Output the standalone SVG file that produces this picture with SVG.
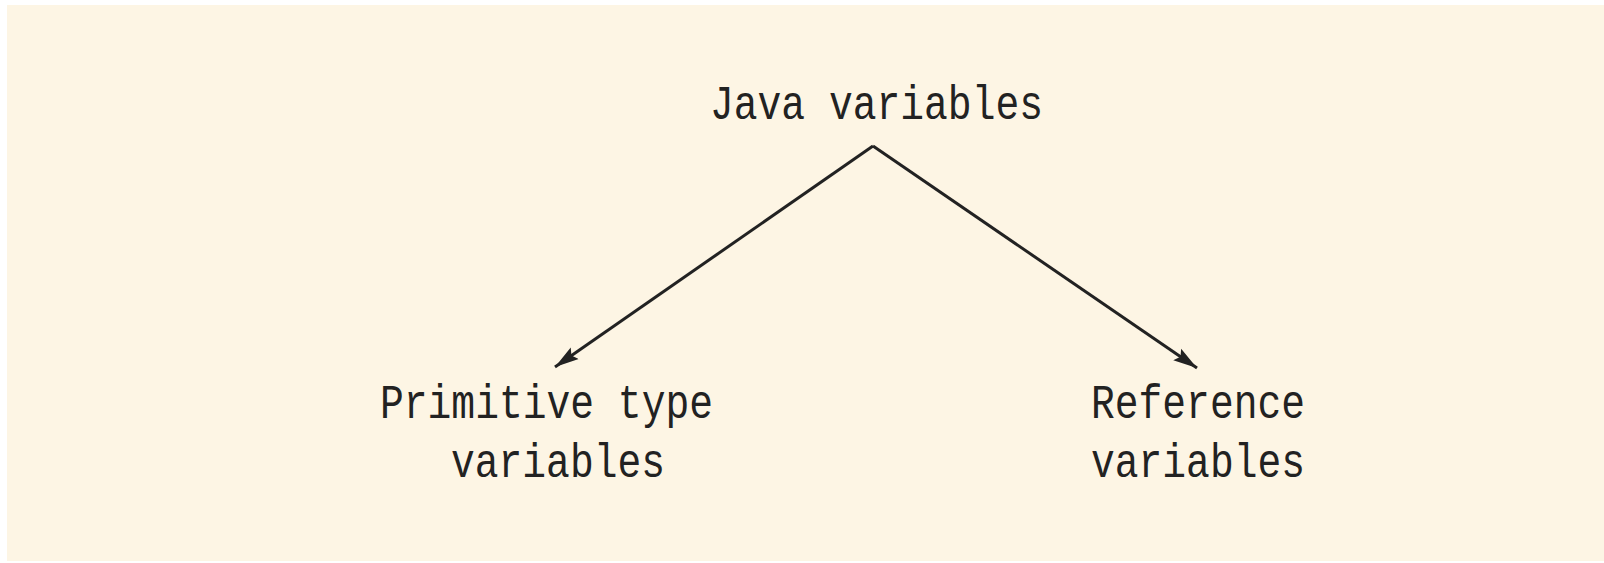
<svg xmlns="http://www.w3.org/2000/svg" width="1604" height="563" viewBox="0 0 1604 563">
  <style>
    .lbl { font-family: "Courier New", "Nimbus Mono PS", "FreeMono", "Liberation Mono", monospace; font-size: 48px; fill: #222; }
    .edge { stroke: #222; stroke-width: 3; fill: none; }
  </style>
  <defs>
    <marker id="arrow" markerUnits="userSpaceOnUse" markerWidth="26" markerHeight="16" refX="24" refY="8" orient="auto">
      <path d="M0,1 L24,8 L0,15 L4,8 Z" fill="#222"/>
    </marker>
  </defs>
  <rect x="0" y="0" width="1604" height="563" fill="#ffffff"/>
  <rect x="7" y="5" width="1597" height="556" fill="#fdf5e4"/>
  <g id="connectors">
    <path class="edge" d="M873,146 L555,367" marker-end="url(#arrow)"/>
    <path class="edge" d="M873,146 L1197,368" marker-end="url(#arrow)"/>
  </g>
  <g id="java-variables">
    <text class="lbl" x="710" y="119" textLength="333" lengthAdjust="spacingAndGlyphs">Java variables</text>
  </g>
  <g id="primitive-type-variables">
    <text class="lbl" x="380" y="418" textLength="333" lengthAdjust="spacingAndGlyphs">Primitive type</text>
    <text class="lbl" x="451" y="477" textLength="214" lengthAdjust="spacingAndGlyphs">variables</text>
  </g>
  <g id="reference-variables">
    <text class="lbl" x="1091" y="418" textLength="214" lengthAdjust="spacingAndGlyphs">Reference</text>
    <text class="lbl" x="1091" y="477" textLength="214" lengthAdjust="spacingAndGlyphs">variables</text>
  </g>
</svg>
